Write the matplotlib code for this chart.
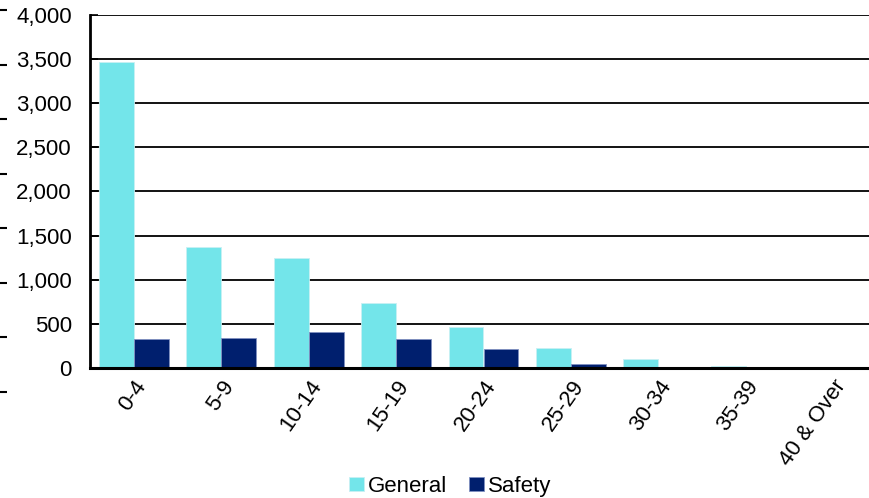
import numpy as np
import matplotlib.pyplot as plt
from matplotlib.ticker import FuncFormatter

plt.rcParams['font.family'] = ['Liberation Sans', 'DejaVu Sans']

# service years buckets and member counts
age_groups = ['0-4', '5-9', '10-14', '15-19', '20-24', '25-29', '30-34', '35-39', '40 & Over']
general = [3470, 1370, 1245, 735, 465, 225, 102, 25, 0]
safety = [327, 336, 404, 326, 215, 45, 0, 0, 0]

W, H = 869, 498
fig = plt.figure(figsize=(W / 100, H / 100), dpi=100)

def px_axes(x0, y0, x1, y1):
  # rectangle in pixel coords (top-left origin) -> figure fraction
  return fig.add_axes([x0 / W, 1 - y1 / H, (x1 - x0) / W, (y1 - y0) / H])

ax = px_axes(90, 15, 877, 368)

x = np.arange(len(age_groups))
bw = 0.4
ax.bar(x - bw / 2, general, bw, color='#73E5EA', edgecolor='#c8f0f3', linewidth=0.6,
       label='General', zorder=2)
ax.bar(x + bw / 2, safety, bw, color='#001F6E', edgecolor='#8090c0', linewidth=0.6,
       label='Safety', zorder=2)

ax.set_xlim(-0.5, len(age_groups) - 0.5)
ax.set_ylim(0, 4000)
ax.set_yticks(np.arange(0, 4001, 500))
ax.yaxis.set_major_formatter(FuncFormatter(lambda v, p: f'{int(v):,}'))
ax.grid(axis='y', color='black', linewidth=1.3, zorder=0)

for s in ['top', 'right']:
  ax.spines[s].set_visible(False)
ax.spines['left'].set_linewidth(2)
ax.spines['bottom'].set_linewidth(2.2)

ax.tick_params(axis='y', direction='in', length=6, width=1.2, labelsize=16, pad=13)
ax.tick_params(axis='x', length=0, labelsize=16, pad=6)
ax.set_xticks(x)
ax.set_xticklabels(age_groups, rotation=55, ha='right', rotation_mode='anchor')

ax.legend(loc='center', bbox_to_anchor=(0.458, -0.335), ncol=2, frameon=False,
          fontsize=16, handlelength=0.65, handleheight=0.65, handletextpad=0.2,
          columnspacing=1.0)

# stray tick marks of a neighbouring axis along the left edge
edge = px_axes(7, 10, 8, 392)
edge.set_ylim(7, 0)
edge.set_yticks(range(8))
edge.set_yticklabels([])
edge.set_xticks([])
edge.tick_params(axis='y', direction='out', length=5, width=1.5)
for s in edge.spines.values():
  s.set_visible(False)
edge.patch.set_visible(False)

fig.savefig('out.png', dpi=100)
